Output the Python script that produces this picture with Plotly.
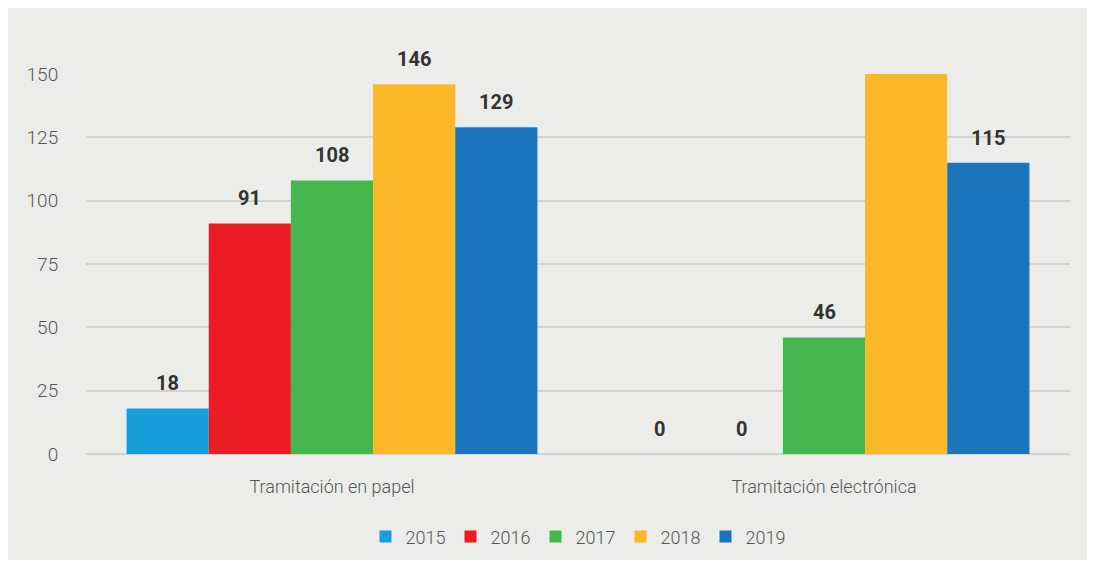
import plotly.graph_objects as go

categories = ["Tramitación en papel", "Tramitación electrónica"]
years = ["2015", "2016", "2017", "2018", "2019"]
v2015 = [18, 0]
v2016 = [91, 0]
v2017 = [108, 46]
v2018 = [146, 150]
v2019 = [129, 115]
series = [v2015, v2016, v2017, v2018, v2019]
colors = ["#179FDB", "#EC1C24", "#45B74E", "#FBB829", "#1B75BC"]
y_max = 150
tick_vals = [0, 25, 50, 75, 100, 125, 150]

BG = "#ECEDEA"
W, H = 1080, 552
L, R, T, B = 78, 18, 66, 106
BARGAP = 0.165
plot_w = W - L - R
cat_px = plot_w / len(categories)
bar_px = cat_px * (1 - BARGAP) / len(years)

fig = go.Figure()
for i, (yr, vals, col) in enumerate(zip(years, series, colors)):
    fig.add_trace(go.Bar(
        x=categories, y=vals, name=yr, marker_color=col, marker_line_width=0,
    ))
    for c, v in zip(categories, vals):
        if v >= y_max:
            continue  # label falls outside the chart in the original
        fig.add_annotation(
            x=c, y=v, xref="x", yref="y", text=str(v), showarrow=False,
            xshift=(i - (len(years) - 1) / 2) * bar_px, yshift=25,
            font=dict(family="Roboto", size=20, color="#333333", weight="bold"),
        )

fig.update_layout(
    width=W, height=H,
    margin=dict(l=L, r=R, t=T, b=B, autoexpand=False),
    paper_bgcolor=BG, plot_bgcolor=BG,
    barmode="group", bargap=BARGAP, bargroupgap=0,
    font=dict(family="Roboto", color="#555555"),
    showlegend=True,
    legend=dict(orientation="h", x=0.5, xanchor="center", y=-0.218, yanchor="middle",
                font=dict(size=18, color="#555555", weight=300), tracegroupgap=0,
                entrywidth=40, entrywidthmode="pixels",
                bgcolor="rgba(0,0,0,0)"),
)
fig.update_xaxes(showgrid=False, showline=False, ticks="outside", ticklen=16,
                 tickcolor="rgba(0,0,0,0)", automargin=False,
                 tickfont=dict(size=18, color="#555555", weight=300))
fig.update_yaxes(range=[0, y_max], tickvals=tick_vals, showgrid=True,
                 gridcolor="#D2D3D0", gridwidth=2, zeroline=True, zerolinecolor="#D2D3D0",
                 zerolinewidth=2, showline=False, ticks="outside", ticklen=23,
                 tickcolor="rgba(0,0,0,0)", automargin=False,
                 tickfont=dict(size=19, color="#555555", weight=300))
fig.write_html("out.html")
